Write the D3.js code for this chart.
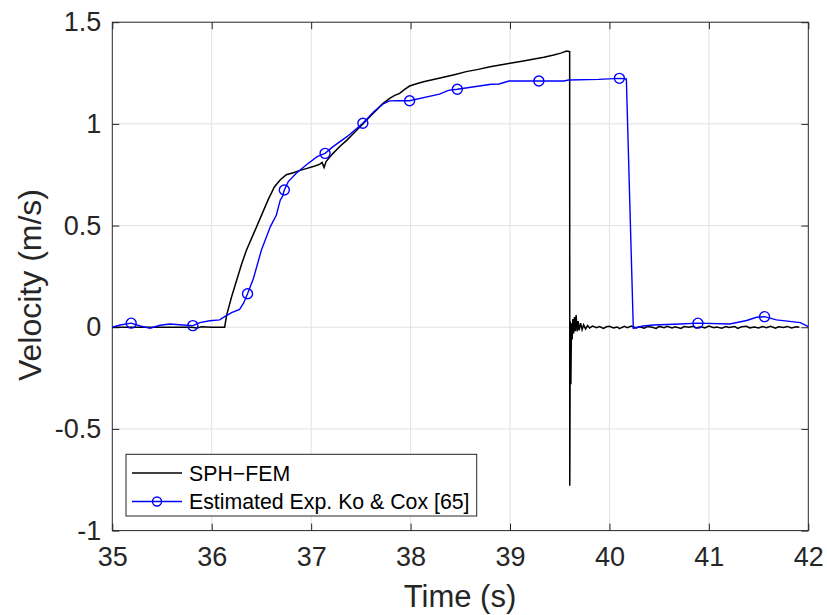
<!DOCTYPE html>
<html>
<head>
<meta charset="utf-8">
<script src="https://cdn.jsdelivr.net/npm/d3@7"></script>
<style>
  html, body { margin: 0; padding: 0; background: #fff; }
  svg { display: block; font-family: "Liberation Sans", Arial, sans-serif; }
</style>
</head>
<body>
<svg id="chart" width="827" height="615"></svg>
<script>
// ---------- data ----------
const xTicks = [35, 36, 37, 38, 39, 40, 41, 42];
const yTicks = [-1, -0.5, 0, 0.5, 1, 1.5];
const yTickLabels = ["-1", "-0.5", "0", "0.5", "1", "1.5"];
const seriesNames = ["SPH\u2212FEM", "Estimated Exp. Ko & Cox [65]"];

const simTime = [35, 35.5, 35.8, 35.85, 35.9, 36.0, 36.13, 36.15, 36.2, 36.25, 36.3, 36.35, 36.43, 36.5, 36.57, 36.63, 36.69, 36.75, 36.82, 36.88, 36.95, 37.02, 37.08, 37.11, 37.13, 37.15, 37.22, 37.29, 37.36, 37.44, 37.52, 37.59, 37.66, 37.72, 37.79, 37.84, 37.89, 37.94, 37.99, 38.06, 38.13, 38.23, 38.33, 38.45, 38.56, 38.68, 38.8, 38.9, 39.0, 39.12, 39.23, 39.34, 39.44, 39.51, 39.57, 39.6,
  39.601, 39.606, 39.612, 39.618, 39.625, 39.632, 39.64, 39.648, 39.656, 39.665, 39.675, 39.685, 39.695, 39.71, 39.725, 39.74, 39.76, 39.78,
  39.8, 39.83, 39.87, 39.9, 39.94, 39.97, 40.0, 40.04, 40.08, 40.1, 40.15, 40.18, 40.22, 40.27, 40.3, 40.35, 40.38, 40.43, 40.47, 40.5, 40.55, 40.58, 40.63, 40.66, 40.72, 40.75, 40.8, 40.84, 40.87, 40.92, 40.96, 41.0, 41.05, 41.08, 41.13, 41.17, 41.2, 41.26, 41.29, 41.33, 41.38, 41.41, 41.46, 41.5, 41.54, 41.58, 41.62, 41.67, 41.7, 41.75, 41.79, 41.83, 41.88, 41.91, 41.96, 42.0];
const simVel = [0, 0, 0, -0.004, 0.002, 0, 0, 0.06, 0.15, 0.23, 0.31, 0.38, 0.47, 0.55, 0.63, 0.69, 0.725, 0.75, 0.76, 0.77, 0.78, 0.79, 0.80, 0.81, 0.785, 0.815, 0.855, 0.89, 0.92, 0.96, 1.0, 1.035, 1.07, 1.1, 1.125, 1.14, 1.15, 1.17, 1.186, 1.197, 1.207, 1.218, 1.229, 1.243, 1.257, 1.268, 1.281, 1.29, 1.298, 1.308, 1.318, 1.328, 1.339, 1.348, 1.358, 1.355,
  -0.78, 0.03, -0.28, 0.02, -0.06, 0.04, -0.03, 0.05, -0.02, 0.06, -0.02, 0.03, -0.015, 0.02, -0.012, 0.012, -0.008, 0.008,
  -0.004, 0.006, -0.002, 0.003, -0.006, 0.002, 0.005, -0.003, 0.001, -0.007, 0.004, -0.002, 0.006, -0.004, 0.002, -0.005, 0.003, 0.0, -0.006, 0.004, -0.002, 0.005, -0.003, 0.002, -0.006, 0.003, 0.0, 0.005, -0.004, 0.002, -0.003, 0.006, -0.002, 0.001, -0.005, 0.003, -0.001, 0.004, -0.006, 0.002, 0.005, -0.003, 0.001, -0.004, 0.003, -0.002, 0.005, -0.005, 0.002, -0.001, 0.004, -0.004, 0.002, 0.0];

const expTime = [35.0, 35.08, 35.19, 35.28, 35.38, 35.48, 35.58, 35.71, 35.81, 35.88, 35.98, 36.08, 36.13, 36.20, 36.28, 36.32, 36.36, 36.42, 36.50, 36.59, 36.65, 36.69, 36.71, 36.73, 36.77, 36.85, 36.95, 37.06, 37.14, 37.22, 37.36, 37.52, 37.63, 37.73, 37.79, 37.89, 37.99, 38.29, 38.38, 38.47, 38.81, 38.89, 38.99, 39.29, 39.54, 39.59, 39.89, 40.10, 40.17, 40.24, 40.34, 40.44, 40.71, 40.89, 41.21, 41.38, 41.48, 41.56, 41.68, 41.92, 42.0];
const expVel = [0, 0.011, 0.02, 0.006, -0.005, 0.01, 0.016, 0.011, 0.008, 0.023, 0.032, 0.036, 0.052, 0.072, 0.088, 0.118, 0.165, 0.241, 0.38, 0.495, 0.552, 0.626, 0.642, 0.675, 0.716, 0.757, 0.798, 0.839, 0.855, 0.888, 0.937, 1.003, 1.06, 1.10, 1.113, 1.114, 1.114, 1.146, 1.165, 1.170, 1.195, 1.196, 1.211, 1.211, 1.211, 1.216, 1.219, 1.224, 1.221, -0.005, 0.006, 0.011, 0.016, 0.02, 0.016, 0.033, 0.049, 0.052, 0.036, 0.023, 0.003];

const markerTime = [35.19, 35.81, 36.36, 36.73, 37.14, 37.52, 37.99, 38.47, 39.29, 40.10, 40.89, 41.56];
const markerVel = [0.02, 0.008, 0.165, 0.675, 0.855, 1.003, 1.114, 1.170, 1.211, 1.224, 0.02, 0.052];

// ---------- layout ----------
const svg = d3.select("#chart");
const L = 112.3, R = 808.3, T = 22.2, B = 530.6;
const axisColor = "#262626";
const x = d3.scaleLinear().domain([35, 42]).range([L, R]);
const y = d3.scaleLinear().domain([-1, 1.5]).range([B, T]);

svg.append("rect").attr("width", 827).attr("height", 615).attr("fill", "#fff");

// grid
const grid = svg.append("g").attr("stroke", "#e1e1e1").attr("stroke-width", 1);
xTicks.slice(1, -1).forEach(t => grid.append("line").attr("x1", x(t)).attr("x2", x(t)).attr("y1", T).attr("y2", B));
yTicks.slice(1, -1).forEach(t => grid.append("line").attr("x1", L).attr("x2", R).attr("y1", y(t)).attr("y2", y(t)));

// axes (inward ticks, MATLAB style, box on)
const tickLen = 7;
const xAxisB = d3.axisBottom(x).tickValues(xTicks).tickSizeInner(-tickLen).tickSizeOuter(0).tickPadding(16).tickFormat(d3.format("d"));
const xAxisT = d3.axisTop(x).tickValues(xTicks).tickSizeInner(-tickLen).tickSizeOuter(0).tickFormat("");
const yAxisL = d3.axisLeft(y).tickValues(yTicks).tickSizeInner(-tickLen).tickSizeOuter(0).tickPadding(11).tickFormat((d, i) => yTickLabels[i]);
const yAxisR = d3.axisRight(y).tickValues(yTicks).tickSizeInner(-tickLen).tickSizeOuter(0).tickFormat("");

function style(g) {
  g.select(".domain").remove();
  g.selectAll(".tick line").attr("stroke", axisColor);
  g.selectAll(".tick text").attr("fill", axisColor).attr("font-size", 27).attr("font-family", "Liberation Sans, Arial, sans-serif");
}
svg.append("g").attr("transform", `translate(0,${B})`).call(xAxisB).call(style);
svg.append("g").attr("transform", `translate(0,${T})`).call(xAxisT).call(style);
svg.append("g").attr("transform", `translate(${L},0)`).call(yAxisL).call(style);
svg.append("g").attr("transform", `translate(${R},0)`).call(yAxisR).call(style);

// box
svg.append("rect").attr("x", L).attr("y", T).attr("width", R - L).attr("height", B - T)
  .attr("fill", "none").attr("stroke", axisColor).attr("stroke-width", 1);

// lines
svg.append("clipPath").attr("id", "clip").append("rect")
  .attr("x", L).attr("y", T).attr("width", R - L).attr("height", B - T);
const line = d3.line().x(d => x(d[0])).y(d => y(d[1]));
const simData = simTime.map((t, i) => [t, simVel[i]]);
const expData = expTime.map((t, i) => [t, expVel[i]]);

const plot = svg.append("g").attr("clip-path", "url(#clip)");
plot.append("path").datum(simData).attr("d", line).attr("fill", "none")
  .attr("stroke", "#000").attr("stroke-width", 1.5).attr("stroke-linejoin", "miter");
plot.append("path").datum(expData).attr("d", line).attr("fill", "none")
  .attr("stroke", "#0000ff").attr("stroke-width", 1.4);
plot.selectAll("circle.m").data(markerTime.map((t, i) => [t, markerVel[i]])).enter()
  .append("circle").attr("class", "m")
  .attr("cx", d => x(d[0])).attr("cy", d => y(d[1])).attr("r", 5)
  .attr("fill", "none").attr("stroke", "#0000ff").attr("stroke-width", 1.4);

// axis labels
svg.append("text").attr("x", 460).attr("y", 607).attr("text-anchor", "middle")
  .attr("font-size", 31).attr("fill", axisColor).text("Time (s)");
svg.append("text").attr("transform", "translate(41,285) rotate(-90)").attr("text-anchor", "middle")
  .attr("font-size", 32).attr("fill", axisColor).text("Velocity (m/s)");

// legend
const lg = svg.append("g");
lg.append("rect").attr("x", 126).attr("y", 454.3).attr("width", 350.7).attr("height", 61.7)
  .attr("fill", "#fff").attr("stroke", axisColor).attr("stroke-width", 1);
const rows = [473, 501.5];
lg.append("line").attr("x1", 132).attr("x2", 182).attr("y1", rows[0]).attr("y2", rows[0])
  .attr("stroke", "#000").attr("stroke-width", 1.4);
lg.append("line").attr("x1", 132).attr("x2", 182).attr("y1", rows[1]).attr("y2", rows[1])
  .attr("stroke", "#0000ff").attr("stroke-width", 1.4);
lg.append("circle").attr("cx", 157).attr("cy", rows[1]).attr("r", 4.5)
  .attr("fill", "none").attr("stroke", "#0000ff").attr("stroke-width", 1.4);
seriesNames.forEach((n, i) => {
  lg.append("text").attr("x", 189).attr("y", rows[i]).attr("dy", "0.36em")
    .attr("font-size", 21.3).attr("fill", "#000").text(n);
});
</script>
</body>
</html>
